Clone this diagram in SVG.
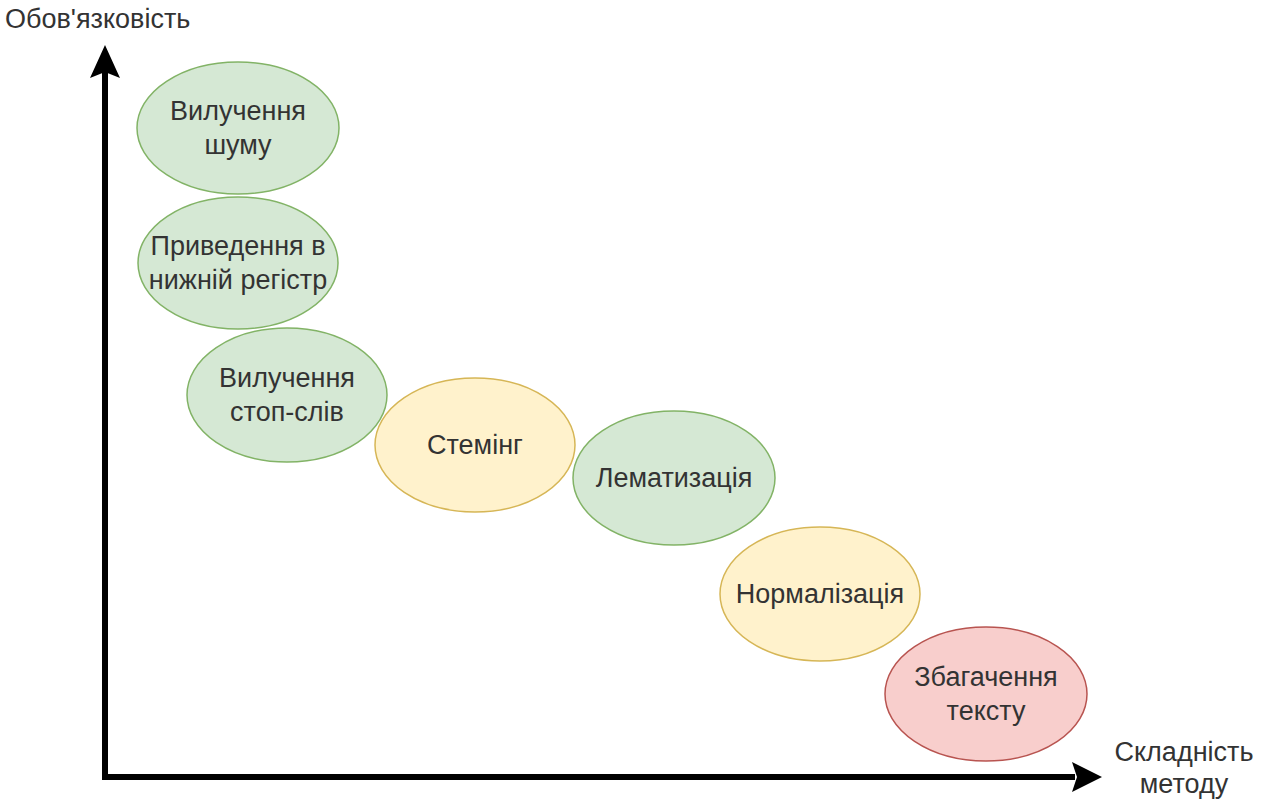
<svg xmlns="http://www.w3.org/2000/svg" width="1270" height="801" viewBox="0 0 1270 801">
<style>
text{font-family:"Liberation Sans",Arial,sans-serif;font-size:27px;fill:#333;}
.n text{text-anchor:middle;}
.g{fill:#d5e8d4;stroke:#82b366;stroke-width:1.5;}
.y{fill:#fff2cc;stroke:#d6b656;stroke-width:1.5;}
.r{fill:#f8cecc;stroke:#b85450;stroke-width:1.5;}
.ax{stroke:#000;stroke-width:6;fill:none;}
</style>
<rect width="1270" height="801" fill="#fff"/>
<g id="axes">
<path class="ax" d="M105 776 V72 M102 777 H1075"/>
<path d="M105 45 L120 78 L105 72 L90 78 Z" fill="#000"/>
<path d="M1102 777 L1072 792 L1077 777 L1072 762 Z" fill="#000"/>
</g>
<text x="5" y="28">Обов'язковість</text>
<text x="1184" y="761" text-anchor="middle">Складність</text>
<text x="1184" y="793" text-anchor="middle">методу</text>
<g id="n1" class="n"><ellipse class="g" cx="238" cy="128" rx="101" ry="66"/><text x="238" y="120">Вилучення</text><text x="238" y="154">шуму</text></g>
<g id="n2" class="n"><ellipse class="g" cx="238" cy="263" rx="100" ry="66"/><text x="238" y="255">Приведення в</text><text x="238" y="289">нижній регістр</text></g>
<g id="n3" class="n"><ellipse class="g" cx="287" cy="395" rx="100" ry="67"/><text x="287" y="387">Вилучення</text><text x="287" y="421">стоп-слів</text></g>
<g id="n4" class="n"><ellipse class="y" cx="475" cy="445" rx="100" ry="67"/><text x="475" y="454">Стемінг</text></g>
<g id="n5" class="n"><ellipse class="g" cx="674" cy="478" rx="101" ry="67"/><text x="674" y="487">Лематизація</text></g>
<g id="n6" class="n"><ellipse class="y" cx="820" cy="594" rx="100" ry="67"/><text x="820" y="603">Нормалізація</text></g>
<g id="n7" class="n"><ellipse class="r" cx="986" cy="694" rx="101" ry="67"/><text x="986" y="686">Збагачення</text><text x="986" y="720">тексту</text></g>
</svg>
